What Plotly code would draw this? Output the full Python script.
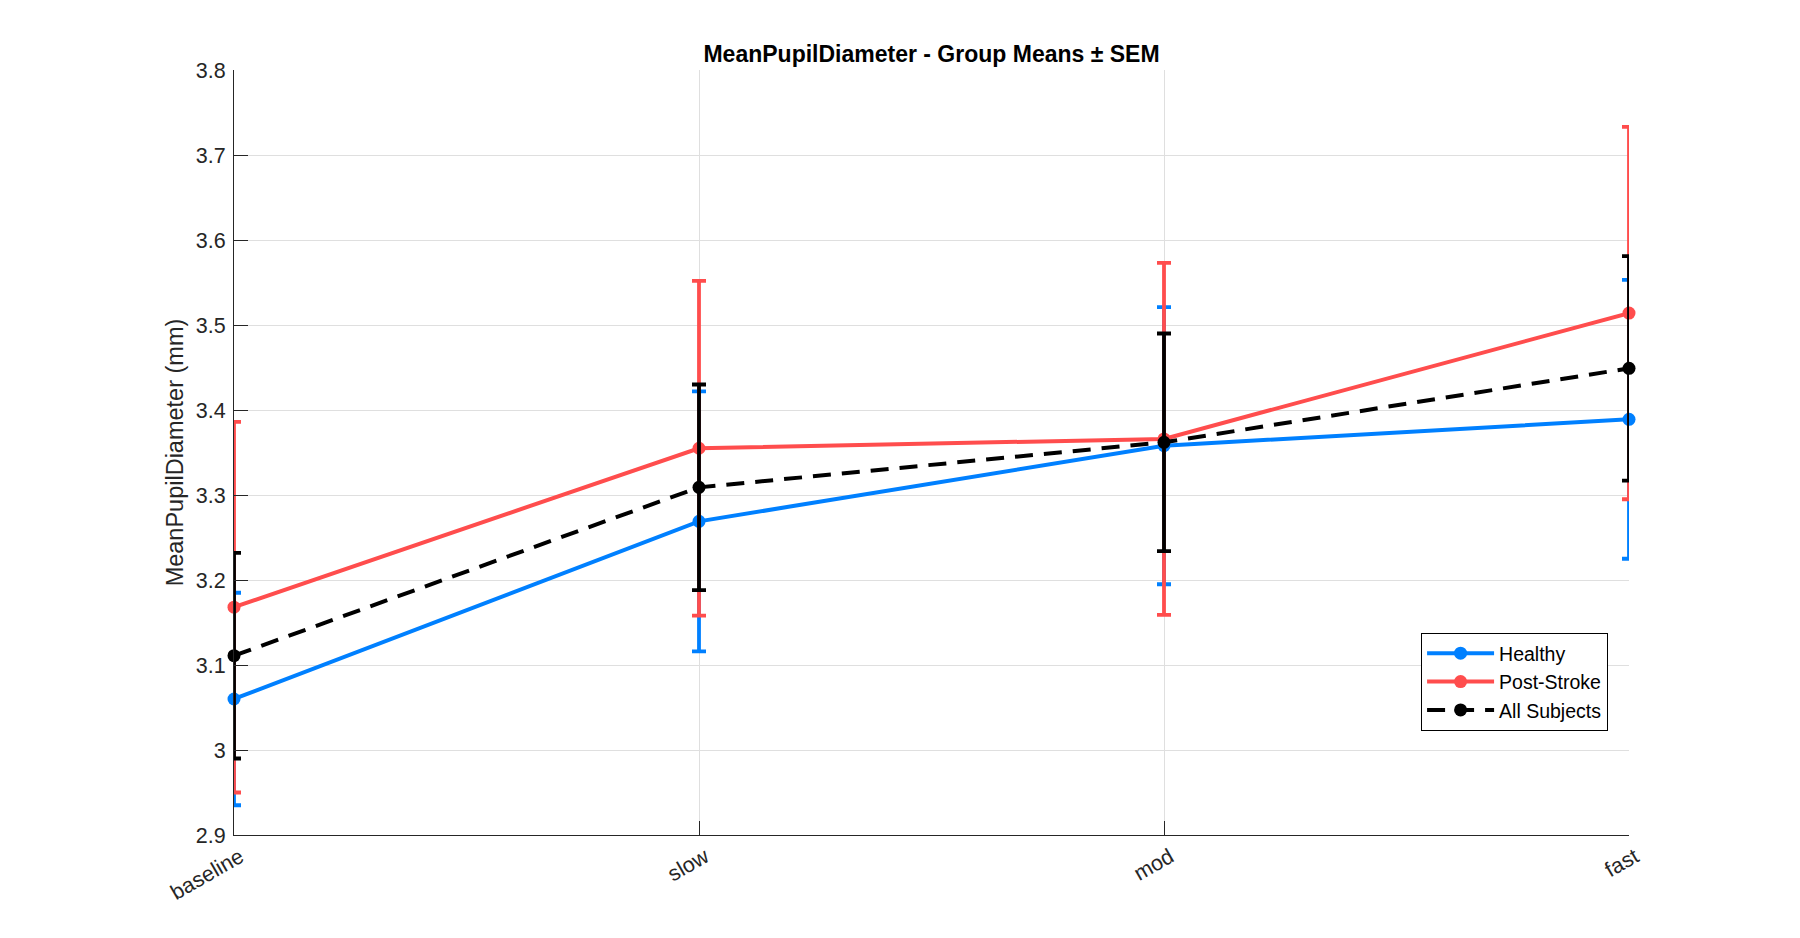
import plotly.graph_objects as go

categories = ["baseline", "slow", "mod", "fast"]

healthy_mean = [3.060, 3.269, 3.358, 3.389]
healthy_sem = [0.125, 0.153, 0.163, 0.164]

stroke_mean = [3.168, 3.355, 3.366, 3.514]
stroke_sem = [0.218, 0.197, 0.207, 0.219]

all_mean = [3.111, 3.309, 3.362, 3.449]
all_sem = [0.121, 0.121, 0.128, 0.132]

y_ticks = [2.9, 3.0, 3.1, 3.2, 3.3, 3.4, 3.5, 3.6, 3.7, 3.8]

BLUE = "rgb(0,128,255)"
RED = "rgb(255,77,77)"
BLACK = "rgb(0,0,0)"

xpos = list(range(len(categories)))

fig = go.Figure()

def add_series(name, means, sems, color, dash):
    fig.add_trace(go.Scatter(
        x=xpos, y=means, name=name, mode="lines+markers",
        line=dict(color=color, width=4, dash=dash),
        marker=dict(color=color, size=13, symbol="circle"),
        error_y=dict(type="data", array=sems, visible=True,
                     color=color, thickness=3.8, width=7),
        cliponaxis=False,
    ))

add_series("Healthy", healthy_mean, healthy_sem, BLUE, "solid")
add_series("Post-Stroke", stroke_mean, stroke_sem, RED, "solid")
add_series("All Subjects", all_mean, all_sem, BLACK, "18px,11px")

# page body has an 8px default margin; figure is sized/offset to compensate
W, H = 1784, 922
L, T = 226, 62
PW, PH = 1395, 765

fig.update_layout(
    width=W, height=H,
    paper_bgcolor="white", plot_bgcolor="white",
    margin=dict(l=L, r=W - L - PW, t=T, b=H - T - PH, autoexpand=False),
    font=dict(family="Liberation Sans, Arial, Helvetica, sans-serif", size=21.5, color="rgb(38,38,38)"),
    title=dict(text="<b>MeanPupilDiameter - Group Means ± SEM</b>",
               x=0.5, xref="paper", xanchor="center",
               y=1 - 46 / H, yref="container", yanchor="middle",
               font=dict(size=23, color="black")),
    legend=dict(x=0.985, xanchor="right", y=0.264, yanchor="top",
                bgcolor="white", bordercolor="black", borderwidth=1,
                font=dict(size=19.5, color="black"),
                tracegroupgap=0, itemwidth=67),
    showlegend=True,
)

fig.update_xaxes(
    range=[0, len(categories) - 1],
    tickvals=xpos, ticktext=categories, tickangle=-30,
    ticklabelshift=6,
    showline=True, linecolor="rgb(38,38,38)", linewidth=1.2, mirror=False,
    ticks="inside", ticklen=14, tickcolor="rgb(38,38,38)",
    showgrid=True, gridcolor="rgb(223,223,223)", gridwidth=1,
    zeroline=False,
)
fig.update_yaxes(
    range=[2.9, 3.8],
    tickvals=y_ticks, ticktext=[f"{v:g}" for v in y_ticks],
    ticklabelstandoff=3,
    showline=True, linecolor="rgb(38,38,38)", linewidth=1.2, mirror=False,
    ticks="inside", ticklen=14, tickcolor="rgb(38,38,38)",
    showgrid=True, gridcolor="rgb(223,223,223)", gridwidth=1,
    zeroline=False,
    title=dict(text="MeanPupilDiameter (mm)", font=dict(size=23.5, color="rgb(38,38,38)"), standoff=5),
)

fig.write_html("out.html")
